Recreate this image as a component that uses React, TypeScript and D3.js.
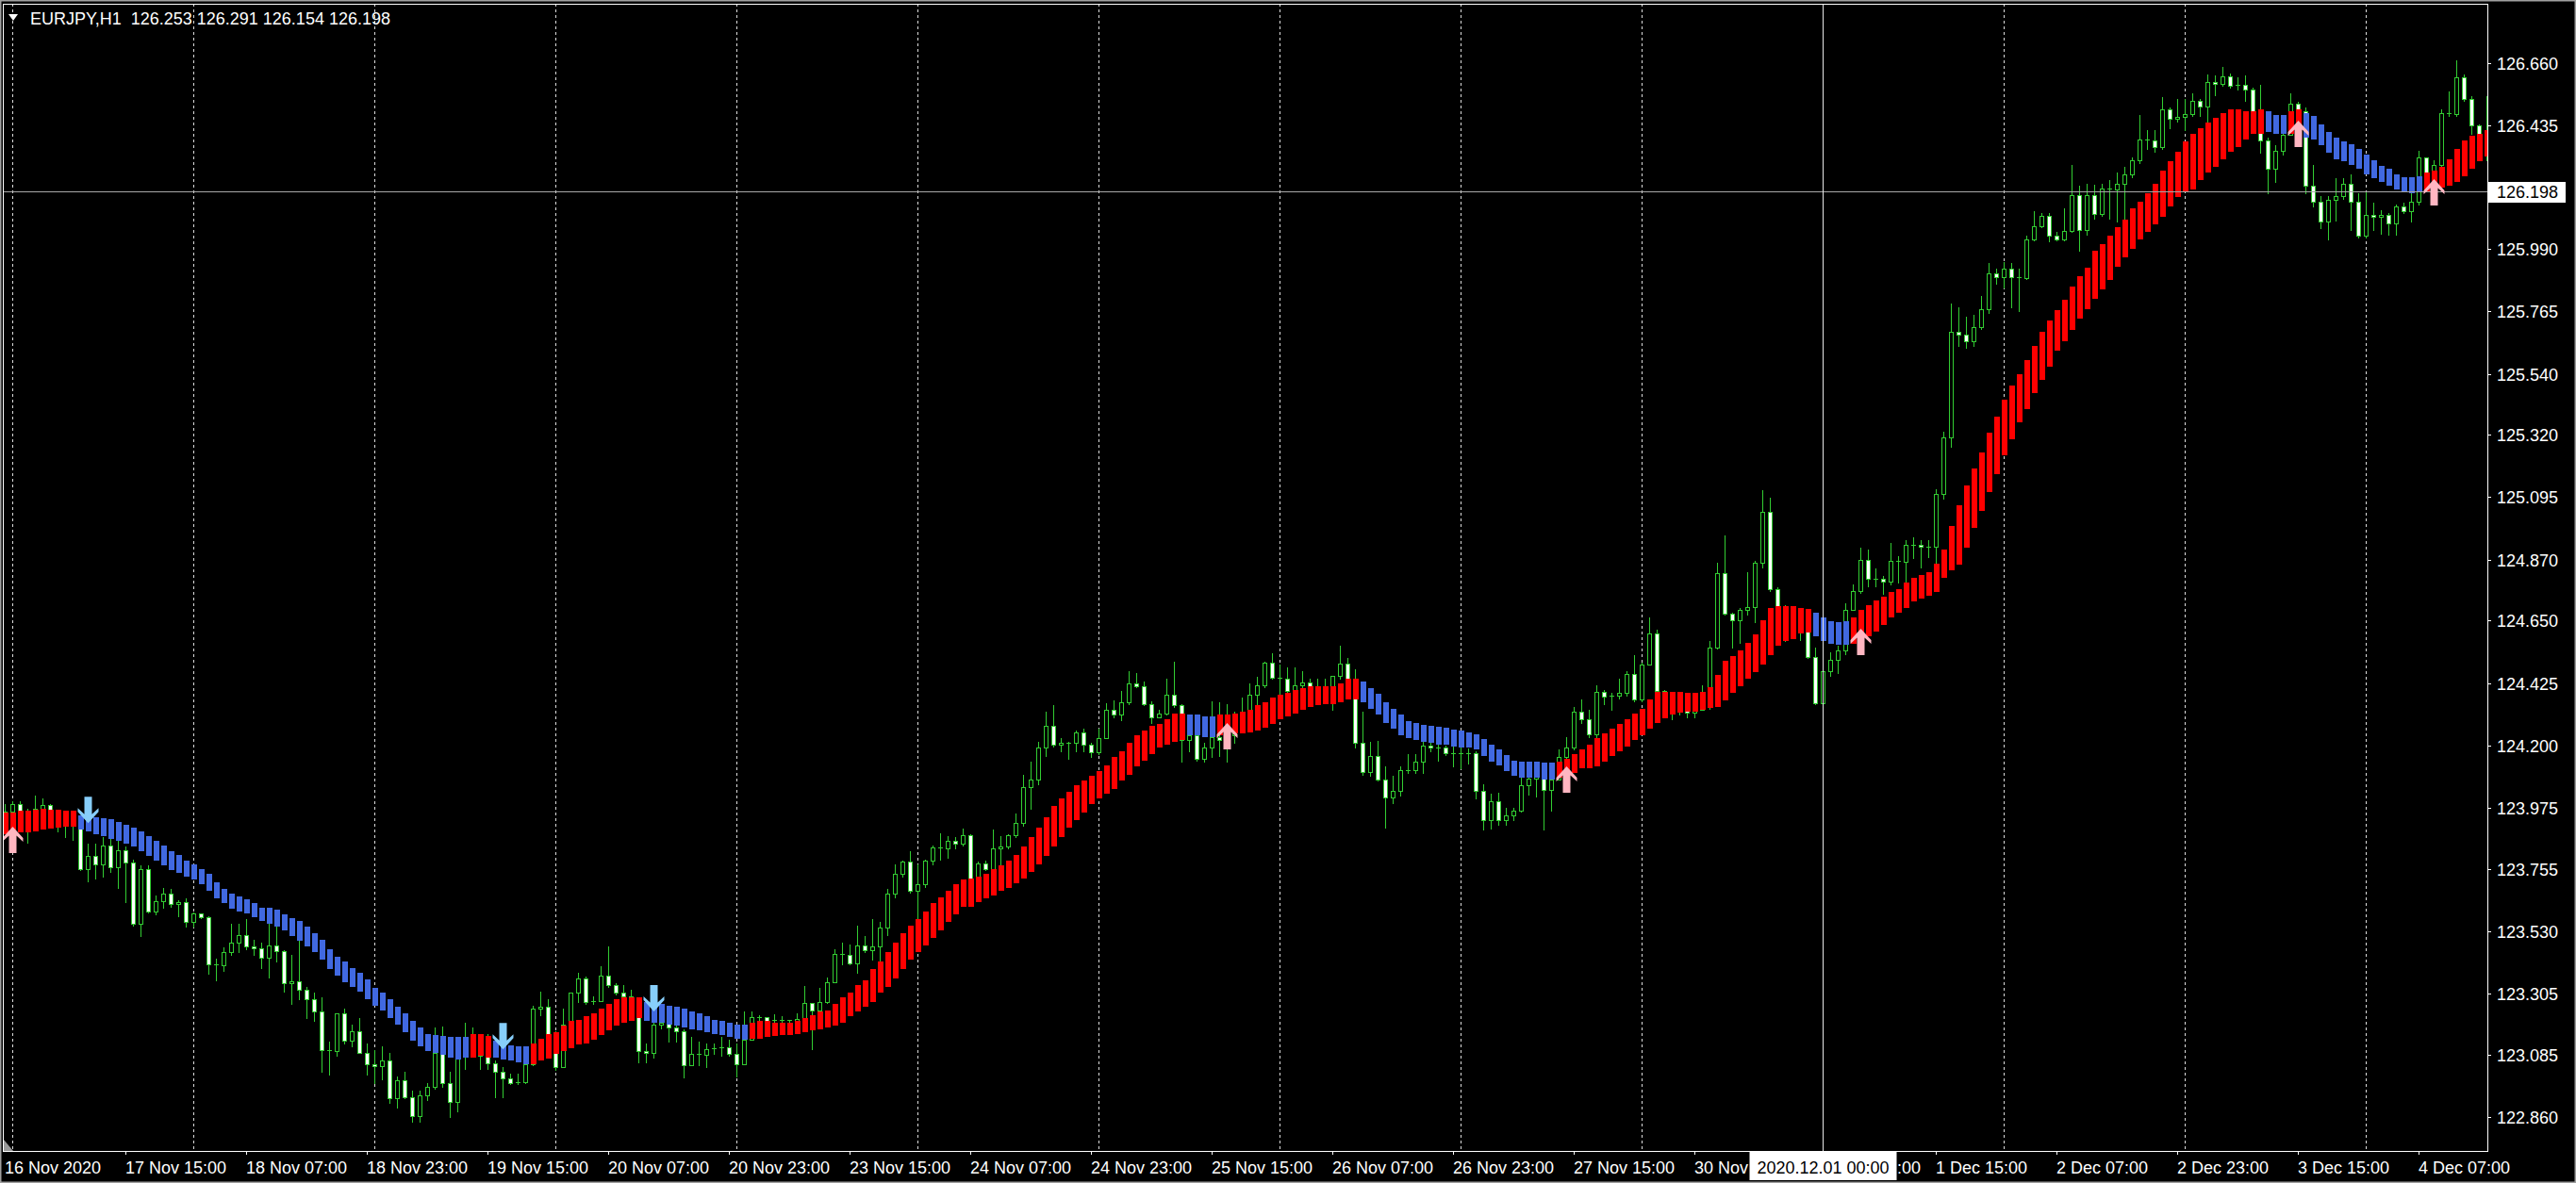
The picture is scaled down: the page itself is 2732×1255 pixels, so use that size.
import React, { useEffect } from 'react';
import * as d3 from 'd3';

// ---------- DATA ----------
const symbolTitle = 'EURJPY,H1';
const lastBar = [126.253, 126.291, 126.154, 126.198]; // O H L C of the current bar
const firstOpen = 123.93;

const closes = [
  123.960, 123.990, 123.965, 123.930, 123.970, 123.985, 123.950, 123.930, 123.920, 123.910,
  123.755, 123.800, 123.770, 123.840, 123.761, 123.823, 123.778, 123.557, 123.755, 123.602,
  123.638, 123.664, 123.627, 123.634, 123.562, 123.593, 123.579, 123.412, 123.407, 123.455,
  123.489, 123.517, 123.475, 123.468, 123.435, 123.479, 123.458, 123.341, 123.350, 123.319,
  123.285, 123.239, 123.101, 123.099, 123.234, 123.137, 123.171, 123.092, 123.049, 123.043,
  123.064, 122.928, 122.992, 122.933, 122.862, 122.939, 122.970, 123.092, 122.981, 122.916,
  123.086, 123.126, 123.137, 123.081, 123.053, 123.024, 123.001, 122.981, 122.987, 123.049,
  123.251, 123.256, 123.160, 123.041, 123.194, 123.307, 123.358, 123.276, 123.279, 123.370,
  123.336, 123.307, 123.294, 123.290, 123.098, 123.092, 123.194, 123.200, 123.183, 123.169,
  123.047, 123.087, 123.083, 123.106, 123.109, 123.112, 123.087, 123.049, 123.138, 123.219,
  123.219, 123.206, 123.210, 123.210, 123.206, 123.215, 123.270, 123.245, 123.274, 123.347,
  123.449, 123.446, 123.415, 123.478, 123.460, 123.474, 123.543, 123.664, 123.738, 123.781,
  123.676, 123.698, 123.783, 123.831, 123.829, 123.857, 123.846, 123.876, 123.715, 123.774,
  123.755, 123.829, 123.834, 123.876, 123.919, 124.050, 124.076, 124.191, 124.270, 124.202,
  124.210, 124.208, 124.248, 124.202, 124.174, 124.227, 124.329, 124.310, 124.356, 124.423,
  124.415, 124.350, 124.302, 124.316, 124.384, 124.344, 124.220, 124.237, 124.152, 124.191,
  124.231, 124.219, 124.236, 124.259, 124.304, 124.384, 124.418, 124.497, 124.443, 124.440,
  124.397, 124.418, 124.426, 124.412, 124.410, 124.410, 124.449, 124.495, 124.440, 124.208,
  124.103, 124.163, 124.078, 124.012, 124.035, 124.112, 124.110, 124.140, 124.200, 124.194,
  124.191, 124.171, 124.172, 124.172, 124.171, 124.035, 123.931, 123.999, 123.931, 123.947,
  123.964, 124.055, 124.080, 124.089, 124.038, 124.078, 124.159, 124.191, 124.321, 124.295,
  124.239, 124.393, 124.375, 124.381, 124.389, 124.459, 124.367, 124.491, 124.605, 124.395,
  124.360, 124.350, 124.340, 124.318, 124.327, 124.361, 124.554, 124.820, 124.676, 124.650,
  124.687, 124.698, 124.857, 125.041, 124.763, 124.703, 124.644, 124.620, 124.610, 124.520,
  124.352, 124.469, 124.508, 124.542, 124.688, 124.757, 124.868, 124.800, 124.800, 124.789,
  124.866, 124.862, 124.924, 124.924, 124.918, 124.916, 125.108, 125.309, 125.691, 125.681,
  125.656, 125.709, 125.774, 125.903, 125.889, 125.920, 125.889, 125.885, 126.024, 126.072,
  126.111, 126.038, 126.024, 126.056, 126.183, 126.058, 126.183, 126.117, 126.207, 126.204,
  126.225, 126.260, 126.311, 126.384, 126.381, 126.359, 126.495, 126.461, 126.466, 126.477,
  126.523, 126.502, 126.592, 126.585, 126.613, 126.578, 126.581, 126.565, 126.488, 126.380,
  126.280, 126.343, 126.402, 126.513, 126.488, 126.218, 126.162, 126.089, 126.167, 126.180,
  126.225, 126.162, 126.038, 126.114, 126.106, 126.114, 126.083, 126.142, 126.128, 126.162,
  126.319, 126.264, 126.294, 126.479, 126.477, 126.610, 126.530, 126.436, 126.402, 126.330,
];

const highs = [
  123.990, 124.000, 124.000, 123.970, 124.020, 124.010, 123.990, 123.960, 123.950, 123.950,
  123.920, 123.846, 123.846, 123.868, 123.874, 123.857, 123.834, 123.789, 123.766, 123.766,
  123.659, 123.687, 123.681, 123.641, 123.647, 123.596, 123.588, 123.585, 123.432, 123.472,
  123.557, 123.557, 123.573, 123.500, 123.489, 123.557, 123.557, 123.460, 123.443, 123.500,
  123.330, 123.307, 123.290, 123.132, 123.234, 123.251, 123.194, 123.217, 123.126, 123.103,
  123.115, 123.092, 123.007, 123.024, 122.956, 122.956, 122.984, 123.183, 123.185, 123.024,
  123.126, 123.200, 123.183, 123.160, 123.160, 123.064, 123.041, 123.018, 123.018, 123.052,
  123.262, 123.313, 123.285, 123.170, 123.251, 123.310, 123.381, 123.365, 123.296, 123.404,
  123.475, 123.341, 123.336, 123.320, 123.290, 123.126, 123.206, 123.240, 123.219, 123.194,
  123.177, 123.149, 123.132, 123.126, 123.126, 123.149, 123.138, 123.126, 123.240, 123.240,
  123.228, 123.220, 123.230, 123.225, 123.211, 123.234, 123.332, 123.251, 123.324, 123.362,
  123.466, 123.489, 123.482, 123.551, 123.511, 123.574, 123.562, 123.681, 123.772, 123.786,
  123.817, 123.772, 123.789, 123.840, 123.882, 123.874, 123.868, 123.899, 123.880, 123.780,
  123.783, 123.897, 123.874, 123.880, 123.953, 124.095, 124.140, 124.214, 124.321, 124.344,
  124.225, 124.214, 124.254, 124.260, 124.210, 124.260, 124.352, 124.361, 124.395, 124.469,
  124.460, 124.431, 124.360, 124.330, 124.440, 124.503, 124.350, 124.250, 124.240, 124.210,
  124.359, 124.355, 124.350, 124.320, 124.372, 124.423, 124.446, 124.503, 124.531, 124.491,
  124.480, 124.480, 124.469, 124.440, 124.440, 124.440, 124.450, 124.559, 124.514, 124.474,
  124.321, 124.214, 124.216, 124.123, 124.089, 124.123, 124.168, 124.168, 124.216, 124.216,
  124.208, 124.200, 124.210, 124.200, 124.190, 124.180, 124.061, 124.027, 124.030, 123.976,
  123.976, 124.083, 124.123, 124.140, 124.123, 124.120, 124.185, 124.231, 124.338, 124.367,
  124.330, 124.418, 124.400, 124.390, 124.440, 124.469, 124.525, 124.497, 124.661, 124.616,
  124.400, 124.380, 124.370, 124.330, 124.340, 124.418, 124.576, 124.860, 124.956, 124.680,
  124.695, 124.826, 124.865, 125.120, 125.092, 124.770, 124.707, 124.660, 124.650, 124.620,
  124.554, 124.475, 124.537, 124.559, 124.712, 124.780, 124.914, 124.905, 124.837, 124.810,
  124.930, 124.884, 124.941, 124.952, 124.939, 124.940, 125.122, 125.330, 125.792, 125.781,
  125.746, 125.753, 125.820, 125.941, 125.920, 125.943, 125.940, 125.920, 126.038, 126.128,
  126.120, 126.120, 126.050, 126.135, 126.294, 126.218, 126.225, 126.220, 126.225, 126.239,
  126.266, 126.287, 126.320, 126.474, 126.419, 126.420, 126.537, 126.500, 126.530, 126.530,
  126.551, 126.530, 126.620, 126.616, 126.648, 126.624, 126.610, 126.616, 126.570, 126.583,
  126.390, 126.364, 126.419, 126.551, 126.520, 126.500, 126.294, 126.180, 126.180, 126.246,
  126.246, 126.260, 126.190, 126.197, 126.156, 126.130, 126.120, 126.150, 126.156, 126.197,
  126.343, 126.320, 126.311, 126.495, 126.558, 126.669, 126.620, 126.540, 126.440, 126.541,
];

const lows = [
  123.920, 123.940, 123.950, 123.850, 123.920, 123.950, 123.920, 123.890, 123.870, 123.860,
  123.750, 123.710, 123.721, 123.727, 123.744, 123.687, 123.636, 123.551, 123.511, 123.596,
  123.591, 123.613, 123.619, 123.585, 123.545, 123.545, 123.577, 123.375, 123.353, 123.387,
  123.443, 123.455, 123.466, 123.443, 123.398, 123.364, 123.421, 123.313, 123.268, 123.285,
  123.217, 123.205, 123.024, 123.013, 123.081, 123.126, 123.115, 123.090, 123.013, 122.984,
  122.996, 122.911, 122.894, 122.928, 122.843, 122.843, 122.922, 122.962, 122.968, 122.860,
  122.882, 123.035, 123.081, 123.035, 123.035, 122.933, 122.933, 122.979, 122.979, 122.984,
  123.047, 123.228, 123.155, 123.030, 123.081, 123.190, 123.274, 123.268, 123.268, 123.280,
  123.330, 123.302, 123.290, 123.280, 123.058, 123.058, 123.075, 123.180, 123.132, 123.132,
  123.004, 123.047, 123.047, 123.041, 123.087, 123.081, 123.081, 123.007, 123.104, 123.194,
  123.206, 123.200, 123.190, 123.195, 123.190, 123.190, 123.190, 123.104, 123.250, 123.270,
  123.350, 123.409, 123.409, 123.381, 123.455, 123.426, 123.410, 123.517, 123.653, 123.727,
  123.670, 123.545, 123.690, 123.770, 123.789, 123.795, 123.830, 123.840, 123.710, 123.700,
  123.750, 123.750, 123.761, 123.830, 123.870, 123.910, 123.970, 124.060, 124.163, 124.197,
  124.180, 124.152, 124.180, 124.180, 124.157, 124.170, 124.240, 124.300, 124.290, 124.350,
  124.410, 124.345, 124.282, 124.300, 124.310, 124.340, 124.140, 124.180, 124.146, 124.140,
  124.157, 124.163, 124.140, 124.210, 124.270, 124.320, 124.350, 124.410, 124.440, 124.384,
  124.390, 124.400, 124.400, 124.410, 124.390, 124.390, 124.327, 124.440, 124.430, 124.191,
  124.095, 124.089, 124.072, 123.902, 123.993, 124.020, 124.100, 124.100, 124.100, 124.180,
  124.146, 124.165, 124.123, 124.118, 124.135, 124.010, 123.897, 123.900, 123.914, 123.914,
  123.930, 123.960, 124.021, 124.016, 123.897, 123.965, 124.120, 124.150, 124.185, 124.280,
  124.230, 124.230, 124.350, 124.327, 124.370, 124.380, 124.360, 124.360, 124.490, 124.390,
  124.330, 124.293, 124.310, 124.300, 124.300, 124.330, 124.333, 124.548, 124.673, 124.554,
  124.571, 124.670, 124.644, 124.840, 124.758, 124.695, 124.576, 124.590, 124.580, 124.515,
  124.350, 124.355, 124.452, 124.460, 124.530, 124.690, 124.750, 124.775, 124.775, 124.746,
  124.780, 124.786, 124.786, 124.876, 124.842, 124.880, 124.859, 125.090, 125.275, 125.642,
  125.635, 125.640, 125.700, 125.760, 125.864, 125.850, 125.781, 125.767, 125.880, 126.020,
  126.070, 126.017, 126.020, 126.020, 126.050, 125.982, 126.040, 126.100, 126.110, 126.100,
  126.090, 126.070, 126.250, 126.300, 126.350, 126.340, 126.350, 126.426, 126.450, 126.419,
  126.470, 126.470, 126.440, 126.544, 126.580, 126.570, 126.565, 126.523, 126.480, 126.336,
  126.190, 126.232, 126.330, 126.400, 126.480, 126.190, 126.142, 126.065, 126.024, 126.093,
  126.170, 126.058, 126.031, 126.030, 126.058, 126.044, 126.040, 126.040, 126.120, 126.090,
  126.150, 126.250, 126.240, 126.280, 126.470, 126.470, 126.523, 126.405, 126.390, 126.310,
];

// trend band indicator (upper / lower value of each histogram bar)
const bandTop = [
  123.959, 123.959, 123.965, 123.965, 123.967, 123.970, 123.967, 123.967, 123.965, 123.965,
  123.948, 123.942, 123.942, 123.938, 123.933, 123.925, 123.914, 123.902, 123.889, 123.874,
  123.857, 123.838, 123.819, 123.804, 123.786, 123.772, 123.755, 123.736, 123.707, 123.681,
  123.664, 123.656, 123.644, 123.630, 123.616, 123.613, 123.608, 123.591, 123.577, 123.568,
  123.545, 123.523, 123.498, 123.466, 123.438, 123.421, 123.398, 123.381, 123.355, 123.324,
  123.307, 123.285, 123.256, 123.234, 123.205, 123.183, 123.160, 123.157, 123.154, 123.149,
  123.149, 123.149, 123.158, 123.160, 123.154, 123.137, 123.126, 123.120, 123.115, 123.115,
  123.126, 123.143, 123.160, 123.166, 123.189, 123.205, 123.211, 123.222, 123.234, 123.251,
  123.268, 123.285, 123.290, 123.290, 123.290, 123.274, 123.268, 123.268, 123.262, 123.256,
  123.251, 123.239, 123.234, 123.222, 123.211, 123.205, 123.200, 123.194, 123.194, 123.200,
  123.205, 123.205, 123.200, 123.200, 123.200, 123.205, 123.217, 123.228, 123.239, 123.245,
  123.268, 123.290, 123.307, 123.336, 123.353, 123.392, 123.421, 123.455, 123.489, 123.523,
  123.551, 123.574, 123.602, 123.630, 123.653, 123.676, 123.698, 123.715, 123.721, 123.727,
  123.738, 123.755, 123.766, 123.783, 123.806, 123.834, 123.868, 123.902, 123.942, 123.982,
  124.010, 124.033, 124.055, 124.072, 124.089, 124.106, 124.129, 124.157, 124.180, 124.208,
  124.236, 124.254, 124.271, 124.276, 124.293, 124.316, 124.316, 124.310, 124.310, 124.304,
  124.304, 124.310, 124.310, 124.316, 124.321, 124.327, 124.344, 124.355, 124.372, 124.384,
  124.389, 124.401, 124.406, 124.412, 124.412, 124.412, 124.412, 124.423, 124.440, 124.440,
  124.429, 124.406, 124.386, 124.355, 124.333, 124.310, 124.287, 124.282, 124.273, 124.270,
  124.268, 124.265, 124.257, 124.253, 124.248, 124.239, 124.223, 124.202, 124.185, 124.165,
  124.146, 124.140, 124.140, 124.140, 124.137, 124.137, 124.140, 124.151, 124.168, 124.185,
  124.202, 124.225, 124.242, 124.259, 124.276, 124.293, 124.316, 124.333, 124.367, 124.393,
  124.393, 124.393, 124.393, 124.389, 124.389, 124.393, 124.409, 124.454, 124.505, 124.522,
  124.542, 124.570, 124.600, 124.651, 124.695, 124.702, 124.701, 124.702, 124.695, 124.692,
  124.678, 124.661, 124.648, 124.644, 124.648, 124.661, 124.688, 124.706, 124.723, 124.736,
  124.753, 124.763, 124.787, 124.804, 124.814, 124.825, 124.855, 124.906, 124.990, 125.067,
  125.136, 125.198, 125.257, 125.326, 125.386, 125.448, 125.497, 125.538, 125.590, 125.642,
  125.691, 125.733, 125.770, 125.806, 125.853, 125.892, 125.923, 125.982, 126.006, 126.038,
  126.070, 126.097, 126.135, 126.162, 126.190, 126.225, 126.273, 126.308, 126.341, 126.377,
  126.405, 126.426, 126.447, 126.463, 126.481, 126.495, 126.495, 126.488, 126.488, 126.495,
  126.488, 126.474, 126.474, 126.488, 126.495, 126.481, 126.468, 126.440, 126.412, 126.391,
  126.377, 126.366, 126.350, 126.329, 126.311, 126.291, 126.280, 126.260, 126.250, 126.250,
  126.253, 126.267, 126.273, 126.287, 126.315, 126.352, 126.380, 126.398, 126.405, 126.419,
];

const bandBottom = [
  123.880, 123.880, 123.885, 123.885, 123.891, 123.897, 123.899, 123.902, 123.906, 123.906,
  123.897, 123.891, 123.880, 123.874, 123.863, 123.857, 123.846, 123.834, 123.817, 123.800,
  123.783, 123.766, 123.751, 123.740, 123.727, 123.715, 123.698, 123.676, 123.650, 123.630,
  123.611, 123.602, 123.594, 123.579, 123.568, 123.557, 123.548, 123.534, 123.514, 123.497,
  123.475, 123.455, 123.426, 123.392, 123.370, 123.347, 123.330, 123.313, 123.285, 123.262,
  123.245, 123.217, 123.194, 123.166, 123.137, 123.115, 123.098, 123.092, 123.086, 123.075,
  123.069, 123.075, 123.075, 123.081, 123.075, 123.075, 123.069, 123.064, 123.058, 123.052,
  123.052, 123.064, 123.070, 123.087, 123.098, 123.109, 123.121, 123.126, 123.138, 123.155,
  123.172, 123.189, 123.200, 123.205, 123.217, 123.206, 123.200, 123.200, 123.194, 123.189,
  123.183, 123.177, 123.172, 123.166, 123.160, 123.155, 123.149, 123.143, 123.138, 123.143,
  123.143, 123.149, 123.151, 123.155, 123.155, 123.160, 123.166, 123.172, 123.177, 123.183,
  123.189, 123.200, 123.222, 123.240, 123.257, 123.274, 123.307, 123.330, 123.358, 123.392,
  123.426, 123.455, 123.477, 123.506, 123.534, 123.562, 123.591, 123.619, 123.619, 123.636,
  123.647, 123.659, 123.676, 123.687, 123.704, 123.721, 123.744, 123.772, 123.800, 123.834,
  123.868, 123.902, 123.931, 123.959, 123.987, 124.010, 124.027, 124.044, 124.072, 124.095,
  124.123, 124.146, 124.169, 124.191, 124.203, 124.214, 124.220, 124.237, 124.237, 124.231,
  124.231, 124.237, 124.242, 124.242, 124.242, 124.248, 124.253, 124.265, 124.276, 124.293,
  124.304, 124.316, 124.327, 124.338, 124.344, 124.350, 124.350, 124.355, 124.367, 124.367,
  124.355, 124.333, 124.310, 124.282, 124.259, 124.236, 124.225, 124.219, 124.214, 124.208,
  124.202, 124.202, 124.197, 124.193, 124.191, 124.185, 124.163, 124.140, 124.129, 124.106,
  124.089, 124.084, 124.084, 124.084, 124.078, 124.078, 124.084, 124.089, 124.101, 124.118,
  124.118, 124.123, 124.140, 124.163, 124.180, 124.197, 124.220, 124.236, 124.259, 124.280,
  124.299, 124.310, 124.318, 124.321, 124.321, 124.327, 124.336, 124.338, 124.362, 124.389,
  124.413, 124.440, 124.464, 124.491, 124.525, 124.559, 124.575, 124.583, 124.604, 124.607,
  124.593, 124.576, 124.566, 124.563, 124.563, 124.566, 124.593, 124.593, 124.610, 124.634,
  124.661, 124.678, 124.695, 124.719, 124.729, 124.740, 124.753, 124.804, 124.830, 124.852,
  124.914, 124.983, 125.046, 125.115, 125.178, 125.247, 125.303, 125.365, 125.414, 125.469,
  125.518, 125.566, 125.622, 125.656, 125.698, 125.739, 125.774, 125.809, 125.843, 125.878,
  125.927, 125.961, 125.989, 126.024, 126.052, 126.079, 126.107, 126.142, 126.176, 126.197,
  126.204, 126.239, 126.267, 126.287, 126.315, 126.339, 126.357, 126.384, 126.405, 126.405,
  126.412, 126.405, 126.405, 126.405, 126.405, 126.391, 126.384, 126.364, 126.336, 126.315,
  126.308, 126.294, 126.280, 126.260, 126.246, 126.232, 126.218, 126.204, 126.197, 126.190,
  126.197, 126.197, 126.204, 126.211, 126.218, 126.232, 126.253, 126.280, 126.308, 126.322,
];

// trend runs: bar index where a run starts, and its direction (1 = up/red, -1 = down/blue)
const trendStart = [0, 10, 62, 65, 70, 85, 99, 157, 161, 180, 206, 240, 245, 300, 303, 305, 321];
const trendDir = [1, -1, 1, -1, 1, -1, 1, -1, 1, -1, 1, -1, 1, -1, 1, -1, 1];

// signal arrows
const arrowBar = [1, 11, 66, 86, 162, 207, 246, 304, 322];
const arrowDir = [1, -1, -1, -1, 1, 1, 1, 1, 1];
const arrowPrice = [123.907, 123.920, 123.104, 123.241, 124.281, 124.124, 124.621, 126.453, 126.242];

// axes
const priceTicks = [126.660, 126.435, 125.990, 125.765, 125.540, 125.320, 125.095, 124.870, 124.650,
  124.425, 124.200, 123.975, 123.755, 123.530, 123.305, 123.085, 122.860];
const timeLabelBars = [0, 16, 32, 48, 64, 80, 96, 112, 128, 144, 160, 176, 192, 208, 224, 240, 256, 272, 288, 304, 320];
// labels as visible on the axis (two of them are partly hidden behind the cursor-date box)
const timeLabels = ['16 Nov 2020', '17 Nov 15:00', '18 Nov 07:00', '18 Nov 23:00', '19 Nov 15:00', '20 Nov 07:00',
  '20 Nov 23:00', '23 Nov 15:00', '24 Nov 07:00', '24 Nov 23:00', '25 Nov 15:00', '26 Nov 07:00', '26 Nov 23:00',
  '27 Nov 15:00', '30 Nov', ':00', '1 Dec 15:00', '2 Dec 07:00', '2 Dec 23:00', '3 Dec 15:00', '4 Dec 07:00'];
const timeLabelShift = [0, 0, 0, 0, 0, 0, 0, 0, 0, 0, 0, 0, 0, 0, 0, 87, 0, 0, 0, 0, 0];
const daySeparatorBars = [1, 25, 49, 73, 97, 121, 145, 169, 193, 217, 241, 265, 289, 313];
const markerBar = 241;
const markerLabel = '2020.12.01 00:00';

// ---------- COMPONENT ----------
const FONT = '"Liberation Sans", Arial, sans-serif';
const GREEN = '#32cd32';

export default function App() {
  useEffect(() => {
    document.body.style.margin = '0';
    document.body.style.background = '#000';
  }, []);

  const W = 2732, H = 1255;
  const L = 4, R = 2638, T = 4, B = 1221;

  const x = d3.scaleLinear().domain([0, 329]).range([5, 2637]);
  const y = d3.scaleLinear().domain([122.86, 126.66]).range([1185, 67]);

  const opens = closes.map((c, i) => (i === 0 ? firstOpen : closes[i - 1]));
  const dirAt = (i: number) => {
    let d = 1;
    for (let k = 0; k < trendStart.length; k++) if (trendStart[k] <= i) d = trendDir[k];
    return d;
  };

  const candles = closes.map((c, i) => {
    const o = opens[i];
    const hi = Math.max(highs[i], o, c);
    const lo = Math.min(lows[i], o, c);
    const cx = Math.round(x(i));
    const yH = Math.round(y(hi));
    const yL = Math.round(y(lo));
    const yTop = Math.round(y(Math.max(o, c)));
    const yBot = Math.round(y(Math.min(o, c)));
    const bear = c < o;
    return (
      <g key={'c' + i}>
        <rect x={cx} y={yH} width={1} height={Math.max(1, yL - yH + 1)} fill={GREEN} />
        {yBot - yTop < 2 ? (
          <rect x={cx - 2} y={yTop} width={5} height={1} fill={GREEN} />
        ) : (
          <>
            <rect x={cx - 2} y={yTop} width={5} height={yBot - yTop + 1} fill={GREEN} />
            <rect x={cx - 1} y={yTop + 1} width={3} height={yBot - yTop - 1} fill={bear ? '#ffffff' : '#000000'} />
          </>
        )}
      </g>
    );
  });

  const band = bandTop.map((t, i) => {
    const cx = Math.round(x(i));
    const y1 = Math.round(y(t));
    const y2 = Math.round(y(bandBottom[i]));
    return (
      <rect key={'b' + i} x={cx - 2} y={y1} width={6} height={Math.max(2, y2 - y1)}
        fill={dirAt(i) > 0 ? '#ff0000' : '#4169e1'} />
    );
  });

  const arrowPts = '0,0 11,12 11,16 4,9.5 4,28 -4,28 -4,9.5 -11,16 -11,12';
  const arrows = arrowBar.map((b, k) => {
    const cx = x(b) + 0.5;
    const ty = y(arrowPrice[k]);
    const up = arrowDir[k] > 0;
    return (
      <polygon key={'a' + k} points={arrowPts}
        transform={`translate(${cx},${ty}) scale(1,${up ? 1 : -1})`}
        fill={up ? '#ffb6c1' : '#87cefa'} />
    );
  });

  const bid = lastBar[3];
  const yBid = Math.round(y(bid)) + 0.5;
  const markerX = Math.round(x(markerBar)) + 0.5;

  return (
    <svg width={W} height={H} style={{ position: 'absolute', left: 0, top: 0, display: 'block', background: '#000' }}
      fontFamily={FONT}>
      <defs>
        <clipPath id="plot">
          <rect x={L} y={T} width={R - L} height={B - T} />
        </clipPath>
      </defs>
      <rect x={0} y={0} width={W} height={H} fill="#000" />
      <rect x={0.5} y={0.5} width={W - 1} height={H - 1} fill="none" stroke="#a0a0a0" strokeWidth={2} />

      {/* day separators, candles, indicator */}
      <g clipPath="url(#plot)">
        {daySeparatorBars.map((b) => (
          <line key={'d' + b} x1={Math.round(x(b)) + 0.5} x2={Math.round(x(b)) + 0.5} y1={T} y2={B}
            stroke="#dcdcdc" strokeWidth={1} strokeDasharray="3,3" />
        ))}
        {candles}
        {band}
        <line x1={L} x2={R} y1={yBid} y2={yBid} stroke="#a8a8a8" strokeWidth={1} />
        <line x1={markerX} x2={markerX} y1={T} y2={B} stroke="#e8e8e8" strokeWidth={1} />
        {arrows}
      </g>

      {/* chart frame */}
      <rect x={L - 0.5} y={T + 0.5} width={R - L + 1} height={B - T} fill="none" stroke="#ffffff" strokeWidth={1} />
      <polygon points={`${L},${B - 12} ${L + 10},${B} ${L},${B}`} fill="#9a9a9a" />

      {/* title */}
      <polygon points="9,15 19,15 14,22" fill="#ffffff" />
      <text x={32} y={26} fill="#ffffff" fontSize={18} style={{ whiteSpace: 'pre' }}>
        {`${symbolTitle}  ${lastBar.map((v) => v.toFixed(3)).join(' ')}`}
      </text>

      {/* price axis */}
      {priceTicks.map((p) => {
        const yy = Math.round(y(p)) + 0.5;
        return (
          <g key={'p' + p}>
            <line x1={R} x2={R + 4} y1={yy} y2={yy} stroke="#ffffff" />
            <text x={2648} y={yy + 6.5} fill="#ffffff" fontSize={18}>{p.toFixed(3)}</text>
          </g>
        );
      })}
      <rect x={2639} y={Math.round(y(bid)) - 10} width={82} height={22} fill="#ffffff" />
      <text x={2648} y={Math.round(y(bid)) + 7} fill="#000000" fontSize={18}>{bid.toFixed(3)}</text>

      {/* time axis */}
      {timeLabelBars.map((b, k) => {
        const xx = Math.round(x(b));
        return (
          <g key={'t' + b}>
            {k > 0 && <line x1={xx + 0.5} x2={xx + 0.5} y1={B} y2={B + 4} stroke="#ffffff" />}
            <text x={xx + timeLabelShift[k]} y={1245} fill="#ffffff" fontSize={18}>{timeLabels[k]}</text>
          </g>
        );
      })}
      <rect x={markerX - 78} y={B + 1} width={156} height={30} fill="#ffffff" />
      <text x={markerX} y={1245} fill="#000000" fontSize={18} textAnchor="middle">{markerLabel}</text>
    </svg>
  );
}
